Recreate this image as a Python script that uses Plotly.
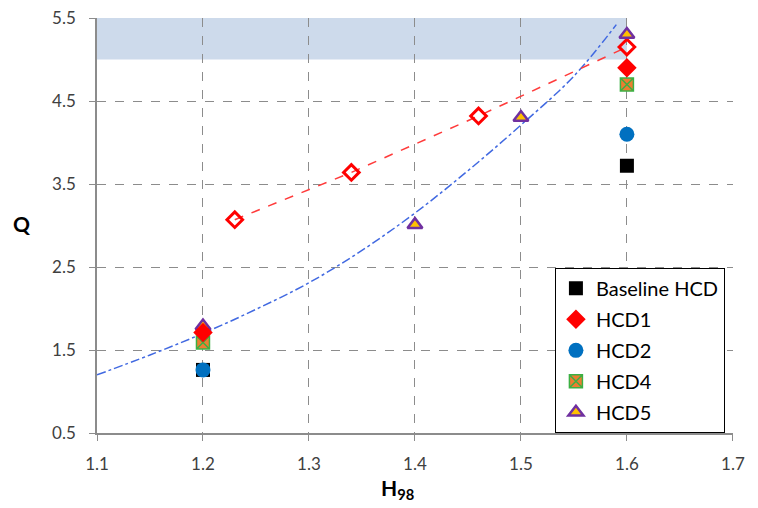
import plotly.graph_objects as go

# Data
base_x = [1.2, 1.6]
base_y = [1.26, 3.72]
hcd1_x = [1.2, 1.6]
hcd1_y = [1.71, 4.90]
hcd2_x = [1.2, 1.6]
hcd2_y = [1.26, 4.10]
hcd4_x = [1.2, 1.6]
hcd4_y = [1.59, 4.70]
hcd5_x = [1.2, 1.4, 1.5, 1.6]
hcd5_y = [1.79, 3.01, 4.30, 5.30]
open_x = [1.23, 1.34, 1.46, 1.60]
open_y = [3.07, 3.64, 4.32, 5.15]
curve_x = [1.10, 1.15, 1.20, 1.25, 1.30, 1.35, 1.40, 1.45, 1.50, 1.55, 1.59]
curve_y = [1.20, 1.44, 1.70, 1.99, 2.31, 2.70, 3.15, 3.66, 4.21, 4.80, 5.42]
band_x = [1.1, 1.6]
band_y = [5.0, 5.5]

FONT = "Lato"
fig = go.Figure()

fig.add_shape(type="rect", xref="x", yref="y", x0=band_x[0], x1=band_x[1],
              y0=band_y[0], y1=band_y[1], fillcolor="rgb(205,218,235)",
              line=dict(width=0), layer="below")

fig.add_trace(go.Scatter(x=curve_x, y=curve_y, mode="lines", showlegend=False,
                         line=dict(color="#4169E1", width=1.5, dash="dashdot", shape="spline")))
fig.add_trace(go.Scatter(x=open_x, y=open_y, mode="lines", showlegend=False,
                         line=dict(color="#FF3B3B", width=1.5, dash="dash")))
fig.add_trace(go.Scatter(x=open_x, y=open_y, mode="markers", showlegend=False,
                         marker=dict(symbol="diamond-open", size=12, color="#FF0000",
                                     line=dict(width=3, color="#FF0000"))))

fig.add_trace(go.Scatter(x=base_x, y=base_y, mode="markers", name="Baseline HCD", legendrank=1,
                         legendgroup="g1",
                         marker=dict(symbol="square", size=14, color="#000000",
                                     line=dict(width=0))))
fig.add_trace(go.Scatter(x=hcd2_x, y=hcd2_y, mode="markers", name="HCD2", legendrank=3,
                         legendgroup="g3",
                         marker=dict(symbol="circle", size=15, color="#0070C0",
                                     line=dict(width=0))))
fig.add_trace(go.Scatter(x=hcd5_x, y=hcd5_y, mode="markers", name="HCD5", legendrank=5,
                         legendgroup="g5",
                         marker=dict(symbol="triangle-up", size=13, color="#FFC000",
                                     line=dict(width=2.5, color="#7030A0"))))
fig.add_trace(go.Scatter(x=hcd4_x, y=hcd4_y, mode="markers", name="HCD4", legendrank=4,
                         legendgroup="g4",
                         marker=dict(symbol="square-x", size=13, color="#ED7D31",
                                     line=dict(width=1.5, color="#3CB043"))))
fig.add_trace(go.Scatter(x=hcd1_x, y=hcd1_y, mode="markers", name="HCD1", legendrank=2,
                         legendgroup="g2",
                         marker=dict(symbol="diamond", size=15, color="#FF0000",
                                     line=dict(width=0))))

axis_common = dict(showline=True, linecolor="#8c8c8c", linewidth=1.5, ticks="outside",
                   ticklen=6, tickcolor="#8c8c8c", showgrid=True, gridcolor="#8c8c8c",
                   griddash="dash", gridwidth=1, zeroline=False, mirror=False,
                   automargin=False, ticklabeloverflow="allow",
                   tickfont=dict(family=FONT, size=17, color="#404040"))

fig.update_xaxes(range=[1.1, 1.7001], tick0=1.1, dtick=0.1, tickformat=".1f",
                 ticklabelstandoff=9, **axis_common)
fig.update_yaxes(range=[0.5, 5.5001], tick0=0.5, dtick=1, tickformat=".1f",
                 ticklabelstandoff=10, **axis_common)

fig.add_annotation(text="<b>Q</b>", xref="paper", yref="paper", x=-0.118, y=0.505,
                   xanchor="center", yanchor="middle", showarrow=False,
                   font=dict(family=FONT, size=21, color="#000"))
fig.add_annotation(text="<b>H<sub>98</sub></b>", xref="paper", yref="paper", x=0.472, y=-0.135,
                   xanchor="center", yanchor="middle", showarrow=False,
                   font=dict(family=FONT, size=21, color="#000"))

fig.update_layout(
    width=750, height=500,
    margin=dict(l=89, r=25, t=10, b=75),
    paper_bgcolor="white", plot_bgcolor="white",
    legend=dict(x=0.72, y=0.398, xanchor="left", yanchor="top",
                bgcolor="white", bordercolor="#000", borderwidth=1,
                font=dict(family=FONT, size=20, color="#000"),
                itemsizing="trace", tracegroupgap=2, itemwidth=30),
)

fig.write_html("out.html")
